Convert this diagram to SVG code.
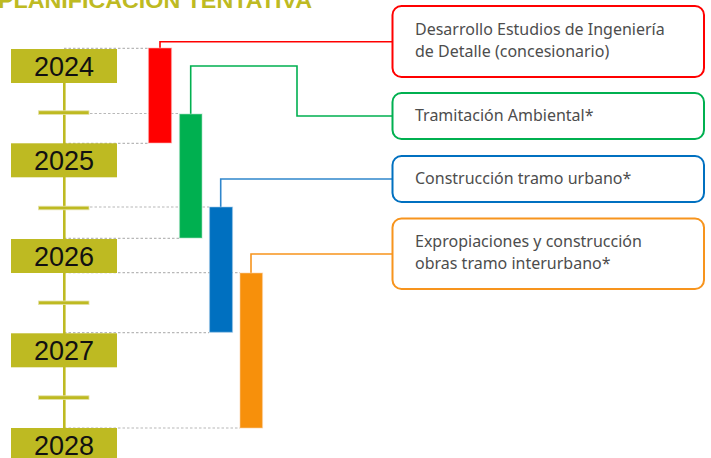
<svg xmlns="http://www.w3.org/2000/svg" width="711" height="458" viewBox="0 0 711 458">
<style>
.title{font-family:"Liberation Sans",Arial,sans-serif;font-weight:bold;font-size:22px;fill:#BEBA22}
.yr{fill:#BEBA22}
.yt{font-family:"Liberation Sans",Arial,sans-serif;font-size:27px;fill:#111;text-anchor:middle}
.tick{fill:#BEBA22;stroke:#E4E2A8;stroke-width:0.8}
.dot{stroke:#B8B8B8;stroke-width:1.2;stroke-dasharray:2.5 2;fill:none}
.bar{stroke-width:1.2;stroke-opacity:0.5}
.conn{fill:none;stroke-width:1.6}
.box{fill:#fff;stroke-width:2}
.lbl{font-family:"Noto Sans","Liberation Sans",sans-serif;font-size:16px;fill:#4d4d4d}
</style>
<text class="title" x="-2" y="8" textLength="314" lengthAdjust="spacingAndGlyphs">PLANIFICACIÓN TENTATIVA</text>

<g id="dotted-guides">
<line class="dot" x1="64" y1="48.3" x2="148" y2="48.3"/>
<line class="dot" x1="90" y1="113.5" x2="179" y2="113.5"/>
<line class="dot" x1="64" y1="143.3" x2="148" y2="143.3"/>
<line class="dot" x1="90" y1="207" x2="209" y2="207"/>
<line class="dot" x1="64" y1="238.3" x2="179" y2="238.3"/>
<line class="dot" x1="64" y1="272.7" x2="240" y2="272.7"/>
<line class="dot" x1="64" y1="332.7" x2="209" y2="332.7"/>
<line class="dot" x1="64" y1="428" x2="240" y2="428"/>
</g>

<g id="timeline">
<rect x="63" y="50" width="2.6" height="408" fill="#BEBA22"/>
<rect class="tick" x="38.5" y="110.8" width="50.5" height="3.6"/>
<rect class="tick" x="38.5" y="206.2" width="50.5" height="3.6"/>
<rect class="tick" x="38.5" y="301" width="50.5" height="3.6"/>
<rect class="tick" x="38.5" y="395.8" width="50.5" height="3.6"/>
</g>

<g id="year-2024"><rect class="yr" x="11" y="49" width="106" height="34"/><text class="yt" x="64" y="76">2024</text></g>
<g id="year-2025"><rect class="yr" x="11" y="143.3" width="106" height="34"/><text class="yt" x="64" y="170.3">2025</text></g>
<g id="year-2026"><rect class="yr" x="11" y="239" width="106" height="34"/><text class="yt" x="64" y="266">2026</text></g>
<g id="year-2027"><rect class="yr" x="11" y="333.3" width="106" height="34"/><text class="yt" x="64" y="360.3">2027</text></g>
<g id="year-2028"><rect class="yr" x="11" y="428" width="106" height="34"/><text class="yt" x="64" y="455">2028</text></g>

<g id="connectors">
<polyline class="conn" stroke="#FF0000" points="160,48 160,41.7 392,41.7"/>
<polyline class="conn" stroke="#00B050" points="190.7,114 190.7,66 297,66 297,116 392,116"/>
<polyline class="conn" stroke="#2F86CC" points="220.7,207 220.7,179 392,179"/>
<polyline class="conn" stroke="#F7941D" points="251,273 251,254 392,254"/>
</g>

<g id="bar-red"><rect class="bar" x="148.5" y="48" width="23" height="95" fill="#FF0000" stroke="#FFB0B0"/></g>
<g id="bar-green"><rect class="bar" x="179.5" y="114" width="22.5" height="124" fill="#00B050" stroke="#A0E0C0"/></g>
<g id="bar-blue"><rect class="bar" x="209.5" y="207" width="23" height="125.3" fill="#0070C0" stroke="#A0C8E8"/></g>
<g id="bar-orange"><rect class="bar" x="240" y="273" width="22.5" height="155" fill="#F7900B" stroke="#FCD0A0"/></g>

<g id="box-desarrollo">
<rect class="box" x="392.5" y="6" width="311.5" height="71" rx="9" stroke="#FF0000"/>
<text class="lbl" x="415" y="35">Desarrollo Estudios de Ingeniería</text>
<text class="lbl" x="415" y="57.3">de Detalle (concesionario)</text>
</g>
<g id="box-tramitacion">
<rect class="box" x="392.5" y="93" width="311.5" height="46" rx="9" stroke="#00B050"/>
<text class="lbl" x="415" y="121">Tramitación Ambiental*</text>
</g>
<g id="box-construccion">
<rect class="box" x="392.5" y="156" width="311.5" height="46" rx="9" stroke="#0070C0"/>
<text class="lbl" x="415" y="184">Construcción tramo urbano*</text>
</g>
<g id="box-expropiaciones">
<rect class="box" x="392.5" y="218.5" width="311.5" height="70.5" rx="9" stroke="#F7941D"/>
<text class="lbl" x="415" y="246.7">Expropiaciones y construcción</text>
<text class="lbl" x="415" y="269">obras tramo interurbano*</text>
</g>
</svg>
